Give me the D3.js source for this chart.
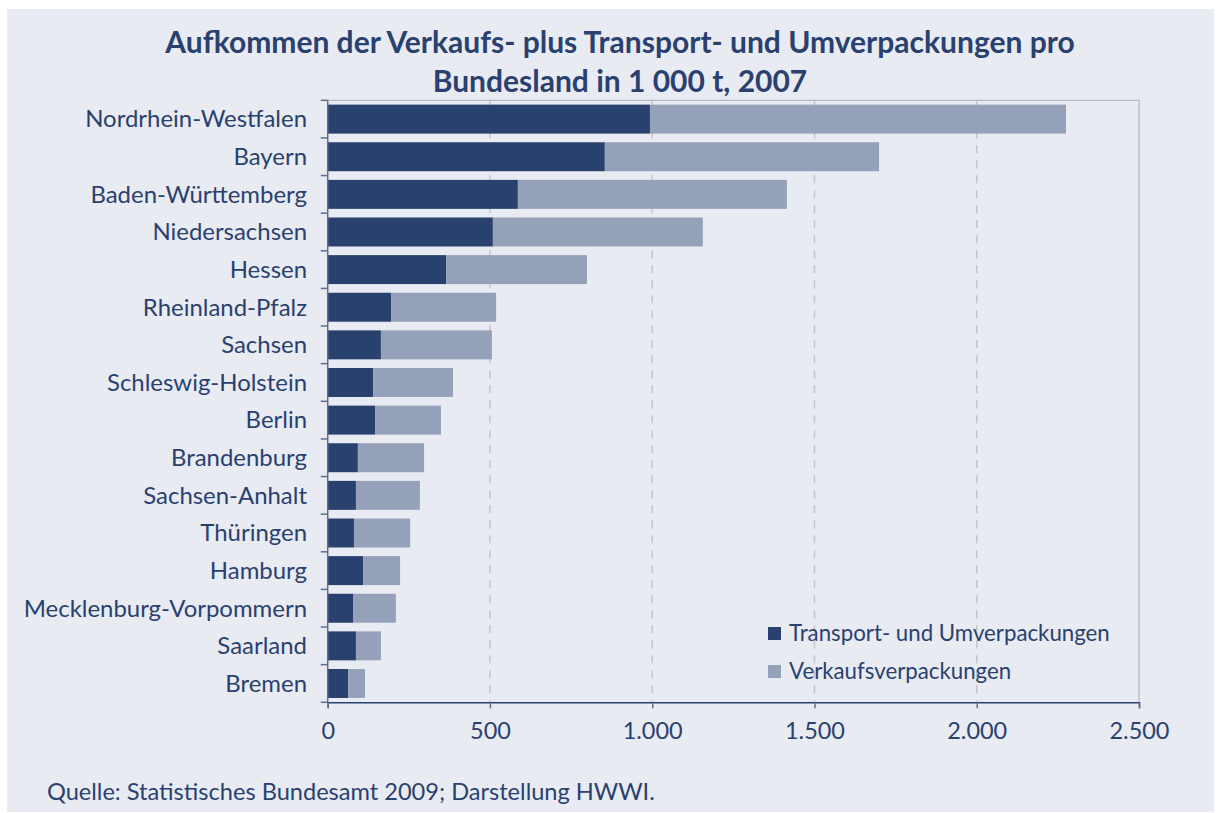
<!DOCTYPE html>
<html><head><meta charset="utf-8">
<script src="https://cdn.jsdelivr.net/npm/d3@7"></script>
<style>
html,body{margin:0;padding:0;background:#fff;}
svg{display:block;}
text{font-family:Lato, "Open Sans", sans-serif;}
</style></head>
<body>
<svg id="chart" width="1220" height="813"></svg>
<script>
const categories = ["Nordrhein-Westfalen","Bayern","Baden-Württemberg","Niedersachsen","Hessen","Rheinland-Pfalz","Sachsen","Schleswig-Holstein","Berlin","Brandenburg","Sachsen-Anhalt","Thüringen","Hamburg","Mecklenburg-Vorpommern","Saarland","Bremen"];
const transport = [993,854,586,509,365,195,164,140,146,93,87,81,109,78,87,63];
const verkauf = [1282,845,829,647,434,324,342,246,203,204,197,173,114,132,77,52];
const seriesNames = ["Transport- und Umverpackungen","Verkaufsverpackungen"];
const xTicks = [0,500,1000,1500,2000,2500];
const xTickLabels = ["0","500","1.000","1.500","2.000","2.500"];
const titleLines = ["Aufkommen der Verkaufs- plus Transport- und Umverpackungen pro","Bundesland in 1 000 t, 2007"];
const sourceText = "Quelle: Statistisches Bundesamt 2009; Darstellung HWWI.";

const dark = "#29416f", light = "#95a1b8", bg = "#e8ebf1", txt = "#2a4170";
const svg = d3.select("#chart");
svg.append("rect").attr("x",7).attr("y",9).attr("width",1207).attr("height",803).attr("fill",bg);

// fit helper
function fitSize(str, targetW, weight, base){
  const t = svg.append("text").attr("font-size",base).attr("font-weight",weight||"normal").text(str);
  const w = t.node().getComputedTextLength(); t.remove();
  return base*targetW/w;
}

const m = {left:327.7, right:1139, top:100.3, bottom:702.3};
const x = d3.scaleLinear().domain([0,2500]).range([m.left,m.right]);
const y = d3.scaleBand().domain(categories).range([m.top,m.bottom]).paddingInner(0.23).paddingOuter(0.115);

// grid
const g = svg.append("g");
g.selectAll("line.grid").data(xTicks.slice(1,-1)).enter().append("line")
 .attr("x1",d=>x(d)).attr("x2",d=>x(d)).attr("y1",m.top).attr("y2",m.bottom)
 .attr("stroke","#c3c5ca").attr("stroke-width",1.5).attr("stroke-dasharray","8,7");
// plot border top/right
g.append("path").attr("d",`M${m.left},${m.top}H${m.right}V${m.bottom}`).attr("fill","none").attr("stroke","#b7b9be").attr("stroke-width",1.3);

// stacked bars
const data = categories.map((c,i)=>({c, t:transport[i], v:verkauf[i]}));
const stack = d3.stack().keys(["t","v"])(data);
const colors = [dark, light];
stack.forEach((s,k)=>{
  g.selectAll(null).data(s).enter().append("rect")
   .attr("x",d=>x(d[0])).attr("width",d=>x(d[1])-x(d[0]))
   .attr("y",d=>y(d.data.c)).attr("height",y.bandwidth())
   .attr("fill",colors[k]);
});

// left axis with ticks at band boundaries
const bounds = categories.map(c=>y(c)-y.step()*y.paddingInner()/2).concat([m.bottom]);
g.append("line").attr("x1",m.left).attr("x2",m.left).attr("y1",m.top).attr("y2",m.bottom).attr("stroke","#5f6f8e").attr("stroke-width",1.5);
g.selectAll(null).data(bounds).enter().append("line")
 .attr("x1",m.left-7).attr("x2",m.left).attr("y1",d=>d).attr("y2",d=>d).attr("stroke","#5f6f8e").attr("stroke-width",1.5);

// bottom axis
const xAxis = d3.axisBottom(x).tickValues(xTicks).tickFormat((d,i)=>xTickLabels[i]).tickSize(6).tickPadding(14);
const ax = svg.append("g").attr("transform",`translate(0,${m.bottom})`).call(xAxis);
ax.select(".domain").attr("stroke",dark).attr("stroke-width",1.5);
ax.selectAll(".tick line").attr("stroke","#5f6f8e").attr("stroke-width",1.5);
const tickFs = fitSize("1.500",60,"normal",20);
ax.selectAll(".tick text").attr("fill",txt).attr("font-size",tickFs).attr("font-family","Lato, sans-serif");

// category labels
const catFs = fitSize("Nordrhein-Westfalen",222,"normal",20);
svg.selectAll("text.cat").data(categories).enter().append("text").attr("class","cat")
 .attr("x",307).attr("y",d=>y(d)+y.bandwidth()/2).attr("dy","0.35em")
 .attr("text-anchor","end").attr("fill",txt).attr("font-size",catFs).text(d=>d);

// title
const titleFs = fitSize(titleLines[0],910,"bold",26);
svg.selectAll("text.title").data(titleLines).enter().append("text")
 .attr("x",620).attr("y",(d,i)=>53+i*38.5).attr("text-anchor","middle")
 .attr("font-weight","bold").attr("font-size",titleFs).attr("fill",txt).text(d=>d);

// legend
const legFs = fitSize(seriesNames[0],321,"normal",20);
const leg = svg.append("g");
seriesNames.forEach((n,i)=>{
  leg.append("rect").attr("x",768).attr("y",627+i*38).attr("width",13).attr("height",13).attr("fill",colors[i]);
  leg.append("text").attr("x",789).attr("y",633.5+i*38).attr("dy","0.35em").attr("font-size",legFs).attr("fill",txt).text(n);
});

// source
const srcFs = fitSize(sourceText,608,"normal",20);
svg.append("text").attr("x",47).attr("y",800).attr("font-size",srcFs).attr("fill",txt).text(sourceText);
</script>
</body></html>
